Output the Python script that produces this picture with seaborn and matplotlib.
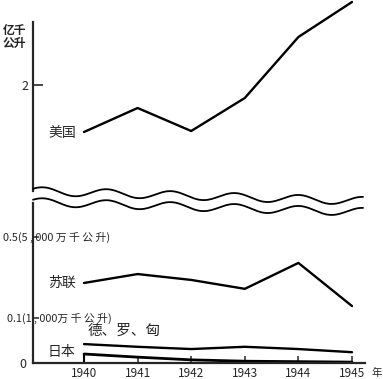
import numpy as np
import pandas as pd
import matplotlib
matplotlib.use("Agg")
import matplotlib.pyplot as plt
import seaborn as sns
from matplotlib.lines import Line2D

# data (亿千公升)
years = [1940, 1941, 1942, 1943, 1944, 1945]
usa = [1.53, 1.77, 1.54, 1.87, 2.48, 2.83]
ussr = [0.273, 0.317, 0.288, 0.244, 0.372, 0.159]
ger_rom_hun = [0.042, 0.036, 0.031, 0.036, 0.031, 0.024]
japan = [0.020, 0.013, 0.007, 0.004, 0.003, 0.002]

year_labels = ["1940", "1941", "1942", "1943", "1944", "1945"]

sns.set_style("white")
plt.rcParams["font.family"] = ["Noto Sans CJK SC", "DejaVu Sans"]

W, H = 383, 379
fig = plt.figure(figsize=(W / 100, H / 100), dpi=100)

# pixel helpers for the axes boxes
def box(x0, y0, x1, y1):
    return [x0 / W, 1 - y1 / H, (x1 - x0) / W, (y1 - y0) / H]

xlim = (1940 - 51 / 53.6, 1945 + 31 / 53.6)

# upper panel: USA
ax_top = fig.add_axes(box(33, 0, 383, 191))
df_usa = pd.DataFrame({"year": years, "v": usa})
sns.lineplot(data=df_usa, x="year", y="v", ax=ax_top, color="black", lw=1.7, clip_on=False)
ax_top.set_xlim(*xlim)
ax_top.set_ylim(0.94, 2.85)
for s in ["top", "right", "bottom"]:
    ax_top.spines[s].set_visible(False)
ax_top.spines["left"].set_bounds(0.94, 2.63)
ax_top.spines["left"].set_linewidth(1.6)
ax_top.set_xticks([])
ax_top.set_yticks([2])
ax_top.set_yticklabels(["2"])
ax_top.tick_params(axis="y", left=True, direction="in", length=7, width=1.2, labelsize=9, pad=3)
ax_top.set_xlabel("")
ax_top.set_ylabel("")
ax_top.patch.set_alpha(0)
ax_top.text(1939.59, 1.52, "美国", fontsize=10, va="center", ha="center")
fig.text(3 / W, 1 - 37 / H, "亿千\n公升", fontsize=8.5, fontweight="bold",
         va="center", ha="left", linespacing=1.0)

# lower panel: piecewise scale (0-0.1 stretched)
def fwd(v):
    return np.interp(v, [0, 0.1, 1.0], [0, 45, 45 + 0.9 * 202.5])

def inv(p):
    return np.interp(p, [0, 45, 45 + 0.9 * 202.5], [0, 0.1, 1.0])

ax = fig.add_axes(box(33, 203, 383, 363))
ax.set_yscale("function", functions=(fwd, inv))
for name, vals in [("ussr", ussr), ("grh", ger_rom_hun), ("jp", japan)]:
    d = pd.DataFrame({"year": years, "v": vals})
    sns.lineplot(data=d, x="year", y="v", ax=ax, color="black",
                 lw=1.7 if name != "jp" else 2.0, clip_on=False)
ax.vlines(years[0], 0, japan[0], color="black", lw=1.5)
ax.set_xlim(*xlim)
ax.set_ylim(0, inv(160))
for s in ["top", "right"]:
    ax.spines[s].set_visible(False)
ax.spines["left"].set_linewidth(1.6)
ax.spines["bottom"].set_linewidth(1.6)
ax.spines["bottom"].set_bounds(xlim[0], 1945.25)
ax.set_xticks(years)
ax.set_xticklabels(year_labels)
ax.set_yticks([0, 0.1, 0.5])
ax.set_yticklabels(["0", "", ""])
ax.tick_params(axis="x", bottom=True, direction="in", length=5, width=1.1, labelsize=8.5, pad=3)
ax.tick_params(axis="y", left=True, direction="in", length=4, width=1.1, labelsize=9, pad=5)
ax.set_xlabel("")
ax.set_ylabel("")
ax.patch.set_alpha(0)
ax.text(1945.36, -10 / 160, "年", fontsize=7.5, va="center", ha="left",
        transform=ax.get_xaxis_transform(), clip_on=False)

yt = ax.get_yaxis_transform()
ax.text(-30 / 350, 0.5, "0.5(5 , 000 万 千 公 升)", transform=yt, fontsize=7.8,
        va="center", ha="left", zorder=5)
ax.text(-26 / 350, 0.1, "0.1(1 , 000万 千 公 升)", transform=yt, fontsize=7.8,
        va="center", ha="left", zorder=5)
ax.text(1939.59, 0.273, "苏联", fontsize=10, va="center", ha="center")
ax.text(1940.07, 0.071, "德、罗、匈", fontsize=10.5, va="center", ha="left")
ax.text(1939.57, 0.0244, "日本", fontsize=10, va="center", ha="center")

# break marks between the two panels
xs = np.linspace(33, 363, 300)
wave = 4 * np.sin(2 * np.pi * (xs - 33) / 64 + 0.6)
top_wave = 191 + 0.03 * (xs - 33) - wave
bot_wave = top_wave + 11
for yy in (top_wave, bot_wave):
    fig.add_artist(Line2D(xs / W, 1 - yy / H, color="black", lw=1.3))

fig.savefig("out.png", dpi=100)
